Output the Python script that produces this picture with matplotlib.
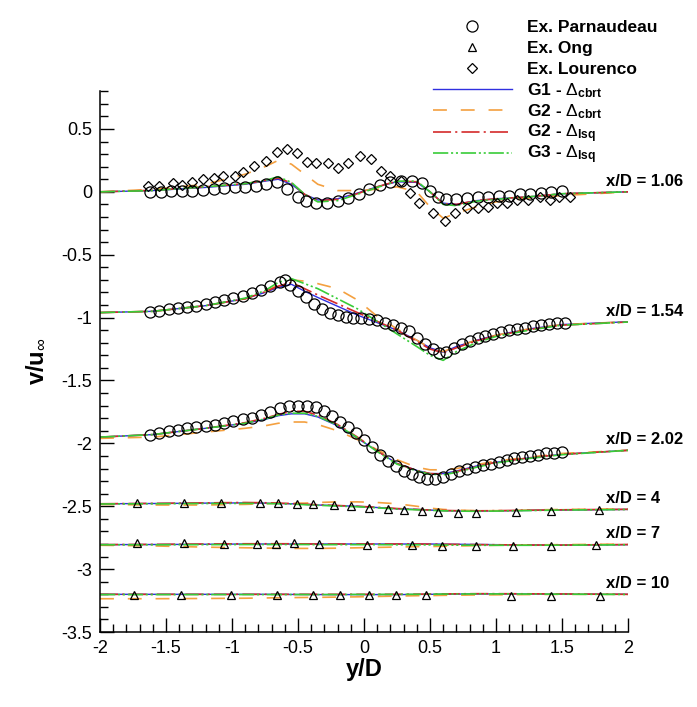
import matplotlib
matplotlib.use('Agg')
import matplotlib.pyplot as plt
from matplotlib.lines import Line2D
from matplotlib.ticker import MultipleLocator

plt.rcParams['font.family'] = ['Liberation Sans', 'DejaVu Sans']
plt.rcParams['axes.unicode_minus'] = False
plt.rcParams['mathtext.fontset'] = 'custom'
plt.rcParams['mathtext.rm'] = 'Liberation Sans'
plt.rcParams['mathtext.bf'] = 'Liberation Sans:bold'
plt.rcParams['mathtext.it'] = 'Liberation Sans:italic'
plt.rcParams['lines.scale_dashes'] = False

# --- CFD profiles, common y/D grid ---
y_cfd = [-2.0, -1.6, -1.2, -0.9, -0.75, -0.65, -0.55, -0.45, -0.35, -0.2, -0.05,
         0.1, 0.25, 0.4, 0.5, 0.6, 0.7, 0.85, 1.0, 1.25, 1.5, 2.0]

# x/D = 1.06
g1c_106 = [0.0, 0.01, 0.035, 0.06, 0.085, 0.10, 0.06, -0.02, -0.065, -0.055, -0.01,
           0.04, 0.08, 0.075, 0.0, -0.09, -0.10, -0.07, -0.055, -0.04, -0.015, 0.0]
g2c_106 = [0.0, 0.02, 0.06, 0.14, 0.20, 0.25, 0.22, 0.14, 0.06, 0.01, 0.01,
           0.02, 0.04, 0.0, -0.12, -0.21, -0.17, -0.12, -0.08, -0.05, -0.03, 0.0]
g2l_106 = [0.0, 0.012, 0.04, 0.065, 0.09, 0.11, 0.07, -0.02, -0.07, -0.06, -0.015,
           0.04, 0.085, 0.08, 0.0, -0.095, -0.10, -0.07, -0.055, -0.04, -0.015, 0.0]
g3l_106 = [0.0, 0.01, 0.04, 0.065, 0.09, 0.12, 0.075, -0.02, -0.08, -0.07, -0.02,
           0.035, 0.085, 0.085, 0.0, -0.10, -0.11, -0.075, -0.06, -0.04, -0.015, 0.0]

# x/D = 1.54
g1c_154 = [-0.96, -0.95, -0.905, -0.85, -0.80, -0.76, -0.735, -0.79, -0.84, -0.91, -0.98,
           -1.04, -1.10, -1.18, -1.24, -1.275, -1.23, -1.18, -1.14, -1.09, -1.055, -1.033]
g2c_154 = [-0.96, -0.95, -0.905, -0.85, -0.795, -0.74, -0.70, -0.71, -0.73, -0.77, -0.86,
           -0.99, -1.09, -1.18, -1.24, -1.27, -1.23, -1.18, -1.14, -1.09, -1.055, -1.033]
g2l_154 = [-0.96, -0.95, -0.905, -0.85, -0.795, -0.75, -0.72, -0.77, -0.82, -0.89, -0.96,
           -1.03, -1.10, -1.19, -1.25, -1.28, -1.24, -1.185, -1.145, -1.095, -1.06, -1.035]
g3l_154 = [-0.96, -0.95, -0.905, -0.845, -0.785, -0.72, -0.69, -0.73, -0.77, -0.85, -0.93,
           -1.03, -1.13, -1.23, -1.30, -1.34, -1.27, -1.20, -1.15, -1.10, -1.06, -1.035]

# x/D = 2.02
g1c_202 = [-1.95, -1.93, -1.88, -1.84, -1.81, -1.78, -1.765, -1.765, -1.79, -1.86, -1.96,
           -2.06, -2.16, -2.215, -2.24, -2.24, -2.22, -2.18, -2.15, -2.115, -2.087, -2.055]
g2c_202 = [-1.96, -1.95, -1.91, -1.88, -1.86, -1.84, -1.83, -1.83, -1.85, -1.90, -1.97,
           -2.05, -2.13, -2.19, -2.21, -2.21, -2.20, -2.17, -2.14, -2.11, -2.08, -2.055]
g2l_202 = [-1.95, -1.93, -1.88, -1.835, -1.80, -1.77, -1.745, -1.745, -1.775, -1.85, -1.95,
           -2.06, -2.16, -2.215, -2.24, -2.245, -2.225, -2.185, -2.15, -2.115, -2.087, -2.055]
g3l_202 = [-1.95, -1.93, -1.88, -1.84, -1.805, -1.775, -1.76, -1.76, -1.785, -1.855, -1.955,
           -2.065, -2.165, -2.22, -2.245, -2.25, -2.23, -2.19, -2.155, -2.12, -2.09, -2.055]

# x/D = 4
g1c_4 = [-2.48, -2.478, -2.475, -2.473, -2.475, -2.478, -2.48, -2.485, -2.49, -2.495, -2.50,
         -2.51, -2.52, -2.525, -2.53, -2.535, -2.537, -2.538, -2.537, -2.533, -2.53, -2.525]
g2c_4 = [-2.485, -2.49, -2.49, -2.485, -2.48, -2.475, -2.475, -2.475, -2.47, -2.465, -2.465,
         -2.47, -2.48, -2.50, -2.515, -2.525, -2.53, -2.535, -2.535, -2.53, -2.525, -2.52]
g2l_4 = [-2.48, -2.477, -2.473, -2.47, -2.472, -2.475, -2.478, -2.483, -2.488, -2.494, -2.50,
         -2.508, -2.518, -2.525, -2.53, -2.533, -2.535, -2.536, -2.535, -2.531, -2.528, -2.524]
g3l_4 = [-2.482, -2.48, -2.478, -2.477, -2.478, -2.48, -2.483, -2.487, -2.492, -2.498, -2.504,
         -2.512, -2.522, -2.528, -2.532, -2.536, -2.538, -2.54, -2.538, -2.534, -2.53, -2.526]

# x/D = 7
g1c_7 = [-2.805, -2.804, -2.802, -2.80, -2.80, -2.80, -2.80, -2.80, -2.80, -2.80, -2.80,
         -2.80, -2.80, -2.80, -2.80, -2.801, -2.802, -2.803, -2.805, -2.808, -2.81, -2.805]
g2c_7 = [-2.81, -2.815, -2.825, -2.83, -2.832, -2.834, -2.835, -2.835, -2.835, -2.833, -2.83,
         -2.827, -2.824, -2.821, -2.82, -2.818, -2.816, -2.813, -2.81, -2.807, -2.805, -2.80]
g2l_7 = [-2.805, -2.803, -2.80, -2.798, -2.798, -2.798, -2.798, -2.799, -2.80, -2.80, -2.80,
         -2.80, -2.80, -2.80, -2.801, -2.802, -2.803, -2.805, -2.806, -2.808, -2.808, -2.804]
g3l_7 = [-2.806, -2.806, -2.805, -2.804, -2.804, -2.804, -2.804, -2.804, -2.805, -2.805, -2.805,
         -2.805, -2.806, -2.806, -2.807, -2.808, -2.809, -2.81, -2.81, -2.81, -2.809, -2.806]

# x/D = 10
g1c_10 = [-3.20, -3.20, -3.20, -3.20, -3.20, -3.20, -3.201, -3.201, -3.202, -3.202, -3.202,
          -3.202, -3.202, -3.201, -3.20, -3.199, -3.198, -3.197, -3.197, -3.197, -3.198, -3.20]
g2c_10 = [-3.235, -3.235, -3.233, -3.231, -3.229, -3.227, -3.226, -3.225, -3.224, -3.222, -3.22,
          -3.217, -3.214, -3.211, -3.21, -3.208, -3.207, -3.205, -3.204, -3.202, -3.20, -3.20]
g2l_10 = [-3.20, -3.20, -3.20, -3.20, -3.20, -3.20, -3.20, -3.20, -3.20, -3.20, -3.20,
          -3.20, -3.20, -3.199, -3.198, -3.197, -3.196, -3.195, -3.195, -3.196, -3.197, -3.20]
g3l_10 = [-3.202, -3.202, -3.202, -3.202, -3.202, -3.202, -3.202, -3.202, -3.202, -3.202, -3.201,
          -3.201, -3.20, -3.20, -3.199, -3.198, -3.198, -3.197, -3.197, -3.198, -3.199, -3.201]

# --- Experiments ---
parn_y106 = [-1.62, -1.54, -1.46, -1.38, -1.30, -1.22, -1.14, -1.06, -0.98, -0.90, -0.82,
             -0.74, -0.66, -0.58, -0.50, -0.44, -0.36, -0.28, -0.20, -0.12, -0.04, 0.04,
             0.12, 0.20, 0.28, 0.36, 0.44, 0.50, 0.56, 0.62, 0.70, 0.78, 0.86, 0.94, 1.02,
             1.10, 1.18, 1.26, 1.34, 1.42, 1.50]
parn_v106 = [-0.005, 0.0, 0.005, 0.005, 0.01, 0.015, 0.02, 0.03, 0.035, 0.04, 0.05,
             0.06, 0.075, 0.02, -0.04, -0.07, -0.085, -0.085, -0.075, -0.05, -0.02, 0.02,
             0.055, 0.08, 0.09, 0.09, 0.07, 0.01, -0.04, -0.06, -0.055, -0.05, -0.045, -0.04, -0.035,
             -0.03, -0.02, -0.015, -0.01, 0.0, 0.005]

parn_y154 = [-1.62, -1.55, -1.48, -1.41, -1.34, -1.27, -1.20, -1.13, -1.06, -0.99, -0.92,
             -0.85, -0.78, -0.71, -0.64, -0.60, -0.56, -0.50, -0.44, -0.38, -0.32, -0.26,
             -0.20, -0.14, -0.08, -0.02, 0.04, 0.10, 0.16, 0.22, 0.28, 0.34, 0.40, 0.46,
             0.52, 0.57, 0.62, 0.68, 0.74, 0.80, 0.86, 0.92, 0.98, 1.04, 1.10, 1.16, 1.22,
             1.28, 1.34, 1.40, 1.46, 1.52]
parn_v154 = [-0.955, -0.945, -0.935, -0.925, -0.915, -0.905, -0.89, -0.875, -0.86, -0.845, -0.825,
             -0.805, -0.78, -0.75, -0.715, -0.70, -0.74, -0.79, -0.84, -0.89, -0.93, -0.96,
             -0.98, -0.995, -1.0, -1.005, -1.01, -1.02, -1.04, -1.06, -1.08, -1.11, -1.16, -1.21,
             -1.25, -1.28, -1.27, -1.24, -1.21, -1.185, -1.165, -1.145, -1.13, -1.115, -1.10, -1.09, -1.08,
             -1.07, -1.06, -1.05, -1.045, -1.04]

parn_y202 = [-1.62, -1.55, -1.48, -1.41, -1.34, -1.27, -1.20, -1.13, -1.06, -0.99, -0.92,
             -0.85, -0.78, -0.71, -0.64, -0.57, -0.50, -0.43, -0.36, -0.30, -0.24, -0.18,
             -0.12, -0.06, 0.0, 0.06, 0.12, 0.18, 0.24, 0.30, 0.36, 0.42, 0.48, 0.54, 0.60,
             0.66, 0.72, 0.78, 0.84, 0.90, 0.96, 1.02, 1.08, 1.14, 1.20, 1.26, 1.32, 1.38,
             1.44, 1.50]
parn_v202 = [-1.935, -1.92, -1.905, -1.895, -1.88, -1.87, -1.86, -1.85, -1.835, -1.825, -1.81,
             -1.795, -1.775, -1.75, -1.72, -1.705, -1.70, -1.70, -1.71, -1.74, -1.78, -1.83,
             -1.87, -1.92, -1.97, -2.03, -2.09, -2.14, -2.18, -2.22, -2.245, -2.265, -2.28, -2.285, -2.27,
             -2.245, -2.22, -2.20, -2.185, -2.17, -2.16, -2.145, -2.135, -2.12, -2.11, -2.10, -2.09, -2.08,
             -2.075, -2.07]

lour_y106 = [-1.64, -1.55, -1.45, -1.38, -1.30, -1.22, -1.14, -1.07, -0.98, -0.92, -0.83,
             -0.74, -0.66, -0.58, -0.51, -0.43, -0.36, -0.27, -0.20, -0.12, -0.03, 0.05,
             0.13, 0.20, 0.28, 0.35, 0.42, 0.52, 0.61, 0.69, 0.78, 0.86, 0.94, 1.01, 1.08,
             1.16, 1.24, 1.33, 1.41, 1.48, 1.56]
lour_v106 = [0.045, 0.045, 0.07, 0.053, 0.08, 0.10, 0.11, 0.125, 0.125, 0.16, 0.205,
             0.244, 0.318, 0.337, 0.31, 0.24, 0.226, 0.226, 0.186, 0.23, 0.284, 0.258,
             0.165, 0.125, 0.09, -0.013, -0.09, -0.17, -0.23, -0.17, -0.13, -0.13, -0.12, -0.09, -0.09,
             -0.066, -0.066, -0.04, -0.066, -0.04, -0.04]

ong_y4 = [-1.72, -1.36, -1.08, -0.79, -0.65, -0.51, -0.39, -0.23, -0.095, 0.04, 0.18,
          0.30, 0.44, 0.56, 0.71, 0.85, 1.15, 1.42, 1.78]
ong_v4 = [-2.475, -2.47, -2.47, -2.47, -2.475, -2.478, -2.483, -2.49, -2.498, -2.51, -2.523,
          -2.533, -2.54, -2.543, -2.553, -2.553, -2.546, -2.535, -2.527]
ong_y7 = [-1.72, -1.36, -1.06, -0.81, -0.67, -0.53, -0.34, 0.02, 0.36, 0.59, 0.85,
          1.13, 1.42, 1.76]
ong_v7 = [-2.795, -2.793, -2.797, -2.797, -2.797, -2.795, -2.80, -2.804, -2.81, -2.813, -2.815,
          -2.815, -2.815, -2.81]
ong_y10 = [-1.74, -1.39, -1.01, -0.66, -0.39, -0.18, 0.04, 0.24, 0.47, 1.11, 1.42, 1.79]
ong_v10 = [-3.203, -3.205, -3.205, -3.207, -3.207, -3.208, -3.208, -3.208, -3.207, -3.212,
           -3.212, -3.215]

stations = ['1.06', '1.54', '2.02', '4', '7', '10']
g1c = [g1c_106, g1c_154, g1c_202, g1c_4, g1c_7, g1c_10]
g2c = [g2c_106, g2c_154, g2c_202, g2c_4, g2c_7, g2c_10]
g2l = [g2l_106, g2l_154, g2l_202, g2l_4, g2l_7, g2l_10]
g3l = [g3l_106, g3l_154, g3l_202, g3l_4, g3l_7, g3l_10]

legend_labels = ['Ex. Parnaudeau', 'Ex. Ong', 'Ex. Lourenco',
                 r'G1 - $\Delta_{\mathbf{cbrt}}$', r'G2 - $\Delta_{\mathbf{cbrt}}$',
                 r'G2 - $\Delta_{\mathbf{lsq}}$', r'G3 - $\Delta_{\mathbf{lsq}}$']

c_blue = '#2f2fe0'
c_orange = '#f4a040'
c_red = '#d42a2a'
c_green = '#38cc38'

sty_g1c = dict(color=c_blue, lw=1.0, ls='-')
sty_g2c = dict(color=c_orange, lw=1.2, ls=(0, (10, 10)))
sty_g2l = dict(color=c_red, lw=1.2, ls=(0, (13, 3, 1.5, 3)))
sty_g3l = dict(color=c_green, lw=1.2, ls=(0, (11, 2, 1.5, 2, 1.5, 2)))
sty_parn = dict(ls='none', marker='o', ms=8, mew=0.9, mfc='none', mec='black')
sty_ong = dict(ls='none', marker='^', ms=6, mew=0.9, mfc='none', mec='black')
sty_lour = dict(ls='none', marker='D', ms=4.8, mew=0.9, mfc='none', mec='black')

fig = plt.figure(figsize=(6.97, 7.07), dpi=100)
ax = fig.add_axes([0.1435, 0.106, 0.7575, 0.765])

for i in range(len(stations)):
    ax.plot(y_cfd, g1c[i], zorder=2, **sty_g1c)
    ax.plot(y_cfd, g2c[i], zorder=2, **sty_g2c)
    ax.plot(y_cfd, g2l[i], zorder=2, **sty_g2l)
    ax.plot(y_cfd, g3l[i], zorder=2, **sty_g3l)
    # station tag just above the right end of the profile
    ax.text(1.83, g1c[i][-1] + 0.085, 'x/D = ' + stations[i], fontsize=12,
            fontweight='bold', ha='left', va='center', clip_on=False)

ax.plot(parn_y106, parn_v106, zorder=3, **sty_parn)
ax.plot(parn_y154, parn_v154, zorder=3, **sty_parn)
ax.plot(parn_y202, parn_v202, zorder=3, **sty_parn)
ax.plot(ong_y4, ong_v4, zorder=3, **sty_ong)
ax.plot(ong_y7, ong_v7, zorder=3, **sty_ong)
ax.plot(ong_y10, ong_v10, zorder=3, **sty_ong)
ax.plot(lour_y106, lour_v106, zorder=3, **sty_lour)

# key in the upper right, one row every 21 px
W, H = 697.0, 707.0
row_px = [26, 47, 68, 89, 110, 131.5, 152.5]
keys = [sty_parn, sty_ong, sty_lour, sty_g1c, sty_g2c, sty_g2l, sty_g3l]
for yp, sty, lab in zip(row_px, keys, legend_labels):
    yf = 1 - yp / H
    if sty.get('marker'):
        fig.add_artist(Line2D([472.5 / W], [yf], transform=fig.transFigure, **sty))
    else:
        fig.add_artist(Line2D([433 / W, 512 / W], [yf, yf], transform=fig.transFigure, **sty))
    fig.text(527 / W, 1 - (yp + 6) / H, lab, fontsize=12.5, fontweight='bold',
             ha='left', va='baseline')

ax.set_xlim(-2, 2)
ax.set_ylim(-3.5, 0.8)
ax.xaxis.set_minor_locator(MultipleLocator(0.1))
ax.yaxis.set_minor_locator(MultipleLocator(0.1))
ax.set_xticks([-2, -1.5, -1, -0.5, 0, 0.5, 1, 1.5, 2])
ax.set_xticklabels(['-2', '-1.5', '-1', '-0.5', '0', '0.5', '1', '1.5', '2'])
ax.set_yticks([0.5, 0, -0.5, -1, -1.5, -2, -2.5, -3, -3.5])
ax.set_yticklabels(['0.5', '0', '-0.5', '-1', '-1.5', '-2', '-2.5', '-3', '-3.5'])
ax.tick_params(which='major', direction='in', length=10, width=1.0, labelsize=13, pad=5.5)
ax.tick_params(which='minor', direction='in', length=5.8, width=1.0)
ax.tick_params(top=False, right=False, which='both')
ax.spines['top'].set_visible(False)
ax.spines['right'].set_visible(False)
ax.spines['left'].set_linewidth(1.1)
ax.spines['bottom'].set_linewidth(1.1)

ax.set_xlabel('y/D', fontsize=17, fontweight='bold')
ax.set_ylabel(r'v/u$_{\infty}$', fontsize=17, fontweight='bold')
ax.xaxis.label.set_va('center')
ax.yaxis.label.set_va('center')
ax.xaxis.set_label_coords(0.5, -0.07)
ax.yaxis.set_label_coords(-0.121, 0.5)

fig.savefig('out.png', dpi=100)
